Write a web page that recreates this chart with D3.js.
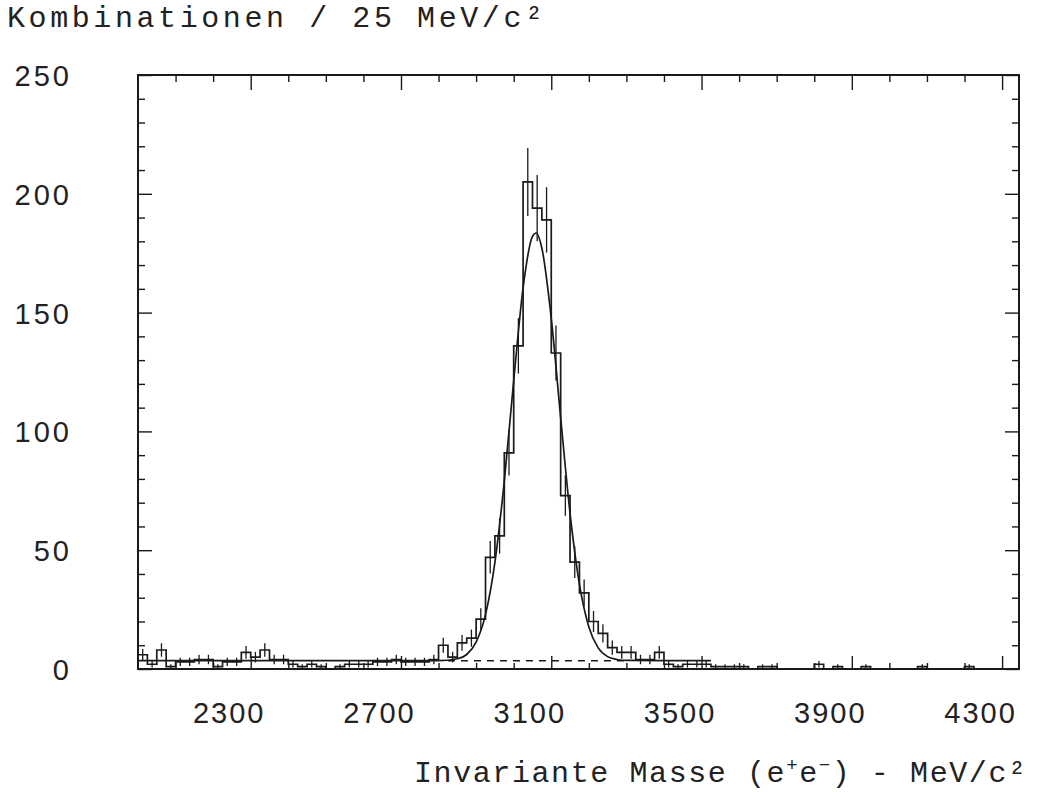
<html>
<head>
<script src="https://d3js.org/d3.v7.min.js"></script>
<style>
  body { margin: 0; background: #fff; }
  text { fill: #222; }
</style>
</head>
<body>
<script>
// histogram: counts per 25 MeV bin, starting at 2000 MeV
var binStart = 2000, binWidth = 25;
var counts = [
  6, 2, 8, 1, 3, 3, 4, 4, 1, 3,
  3, 7, 5, 8, 4, 4, 2, 1, 2, 1,
  0, 1, 2, 2, 2, 3, 3, 4, 3, 3,
  3, 4, 10, 5, 11, 13, 21, 47, 56, 91,
  136, 205, 194, 189, 133, 73, 45, 32, 20, 15,
  9, 7, 7, 4, 4, 7, 2, 1, 2, 2,
  2, 1, 1, 1, 1, 0, 1, 1, 0, 0,
  0, 0, 2, 0, 1, 0, 0, 1, 0, 0,
  0, 0, 0, 1, 0, 0, 0, 0, 1, 0,
  0, 0, 0
];

// fit curve (mass, value)
var fitMass = [2000, 2400, 2800, 2850, 2875, 2900, 2925, 2950, 2975, 3000, 3025, 3050, 3060,
               3075, 3100, 3125, 3150, 3175, 3200, 3225, 3250, 3275, 3300, 3400, 3525];
var fitValue = [3.5, 3.5, 3.5, 4.3, 6.1, 11.3, 22.9, 44.9, 79.1, 121.3, 160.4, 182.1, 183.5,
                177.1, 147.6, 105.8, 65.5, 35.6, 17.7, 8.9, 5.2, 4.0, 3.6, 3.5, 3.5];

// background (dashed)
var bgMass = [2825, 3300];
var bgValue = [3.5, 3.5];

var xMajor = [2300, 2700, 3100, 3500, 3900, 4300];
var yMajor = [0, 50, 100, 150, 200, 250];

var W = 1043, H = 792;
var L = 138, R = 1019, T = 75, B = 669;
var ink = "#1a1a1a";

var x = d3.scaleLinear().domain([2000, 4345]).range([L, R]);
var y = d3.scaleLinear().domain([0, 250]).range([B, T]);

var svg = d3.select("body").append("svg").attr("width", W).attr("height", H);

svg.append("clipPath").attr("id", "plot")
  .append("rect").attr("x", L).attr("y", T).attr("width", R - L).attr("height", B - T);

var g = svg.append("g").attr("clip-path", "url(#plot)");

// histogram outline
var steps = [[binStart, 0]];
counts.forEach(function(c, i){ steps.push([binStart + i * binWidth, c]); });
steps.push([binStart + counts.length * binWidth, 0]);
var stepLine = d3.line().x(function(d){ return x(d[0]); }).y(function(d){ return y(d[1]); }).curve(d3.curveStepAfter);
g.append("path").attr("d", stepLine(steps)).attr("fill", "none").attr("stroke", ink).attr("stroke-width", 1.7);

// error bars
g.selectAll("line.err").data(counts.map(function(c, i){ return {m: binStart + (i + 0.5) * binWidth, c: c}; })
    .filter(function(d){ return d.c > 0; }))
  .enter().append("line").attr("class", "err")
  .attr("x1", function(d){ return x(d.m); }).attr("x2", function(d){ return x(d.m); })
  .attr("y1", function(d){ return y(d.c - Math.sqrt(d.c)); })
  .attr("y2", function(d){ return y(d.c + Math.sqrt(d.c)); })
  .attr("stroke", ink).attr("stroke-width", 1.3);

// background dashed
var bgPts = bgMass.map(function(m, i){ return [m, bgValue[i]]; });
g.append("path").attr("d", d3.line().x(function(d){ return x(d[0]); }).y(function(d){ return y(d[1]); })(bgPts))
  .attr("fill", "none").attr("stroke", ink).attr("stroke-width", 1.5).attr("stroke-dasharray", "7,6");

// fit curve
var fitPts = fitMass.map(function(m, i){ return [m, fitValue[i]]; });
g.append("path").attr("d", d3.line().x(function(d){ return x(d[0]); }).y(function(d){ return y(d[1]); }).curve(d3.curveMonotoneX)(fitPts))
  .attr("fill", "none").attr("stroke", ink).attr("stroke-width", 1.7);

// frame
svg.append("rect").attr("x", L).attr("y", T).attr("width", R - L).attr("height", B - T)
  .attr("fill", "none").attr("stroke", ink).attr("stroke-width", 2);

// axes (ticks pointing inward)
var xMinor = d3.range(2100, 4345, 100).filter(function(v){ return xMajor.indexOf(v) < 0; });
var yMinor = d3.range(10, 250, 10).filter(function(v){ return yMajor.indexOf(v) < 0; });

function tidy(sel){
  sel.select(".domain").remove();
  sel.selectAll("line").attr("stroke", ink).attr("stroke-width", 1.4);
}

var tickFont = "'Liberation Sans', Arial, sans-serif";

svg.append("g").attr("transform", "translate(0," + B + ")")
  .call(d3.axisBottom(x).tickValues(xMinor).tickSize(-6).tickFormat("")).call(tidy);
var xb = svg.append("g").attr("transform", "translate(0," + B + ")")
  .call(d3.axisBottom(x).tickValues(xMajor).tickSize(-13).tickPadding(0).tickFormat(d3.format("d"))).call(tidy);
xb.selectAll("text").attr("y", 54).attr("dy", 0).attr("dx", -22)
  .style("font-family", tickFont).style("font-size", "29px")
  .style("letter-spacing", "2px").attr("fill", "#222");

svg.append("g").attr("transform", "translate(0," + T + ")")
  .call(d3.axisTop(x).tickValues(xMinor).tickSize(-7).tickFormat("")).call(tidy);
svg.append("g").attr("transform", "translate(0," + T + ")")
  .call(d3.axisTop(x).tickValues(xMajor).tickSize(-15).tickFormat("")).call(tidy);

svg.append("g").attr("transform", "translate(" + L + ",0)")
  .call(d3.axisLeft(y).tickValues(yMinor).tickSize(-7).tickFormat("")).call(tidy);
var yl = svg.append("g").attr("transform", "translate(" + L + ",0)")
  .call(d3.axisLeft(y).tickValues(yMajor).tickSize(-14).tickFormat(d3.format("d"))).call(tidy);
yl.selectAll("text").attr("x", 72 - L).attr("dy", "0.36em")
  .style("font-family", tickFont).style("font-size", "29px")
  .style("letter-spacing", "3px").attr("fill", "#222");

svg.append("g").attr("transform", "translate(" + R + ",0)")
  .call(d3.axisRight(y).tickValues(yMinor).tickSize(-7).tickFormat("")).call(tidy);
svg.append("g").attr("transform", "translate(" + R + ",0)")
  .call(d3.axisRight(y).tickValues(yMajor).tickSize(-14).tickFormat("")).call(tidy);

// titles (typewriter style, spread to the reference width)
var titleFont = "'Liberation Mono', 'Courier New', monospace";
svg.append("text").attr("x", 7).attr("y", 27)
  .attr("textLength", 536).attr("lengthAdjust", "spacing")
  .style("font-family", titleFont).style("font-size", "30px")
  .text("Kombinationen / 25 MeV/c\u00B2");

var xt = svg.append("text").attr("x", 414).attr("y", 782)
  .attr("textLength", 612).attr("lengthAdjust", "spacing")
  .style("font-family", titleFont).style("font-size", "30px");
xt.append("tspan").text("Invariante Masse (e");
xt.append("tspan").attr("dy", -11).style("font-size", "19px").text("+");
xt.append("tspan").attr("dy", 11).text("e");
xt.append("tspan").attr("dy", -11).style("font-size", "19px").text("\u2212");
xt.append("tspan").attr("dy", 11).text(") - MeV/c\u00B2");
</script>
</body>
</html>
